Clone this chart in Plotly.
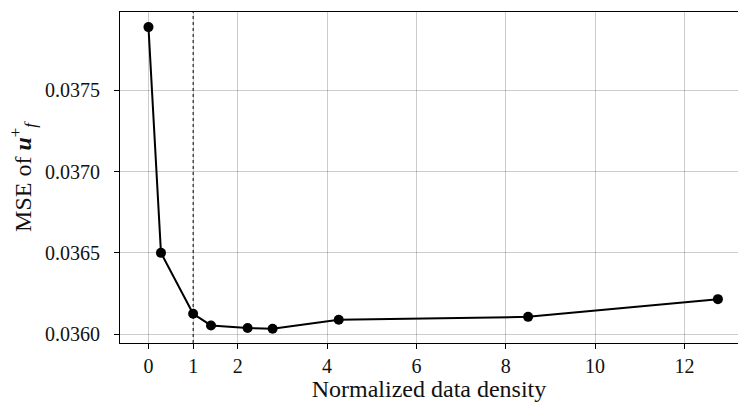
import plotly.graph_objects as go

density = [0.0, 0.28, 1.0, 1.4, 2.22, 2.78, 4.26, 8.5, 12.75]
mse = [0.03789, 0.03650, 0.036125, 0.036053, 0.036037, 0.036033, 0.036088, 0.036106, 0.036215]

x_ticks = [0, 1, 2, 4, 6, 8, 10, 12]
y_ticks = [0.0360, 0.0365, 0.0370, 0.0375]
y_tick_text = ["0.0360", "0.0365", "0.0370", "0.0375"]

FONT = "Liberation Serif"

fig = go.Figure()
fig.add_trace(go.Scatter(
    x=density, y=mse, mode="lines+markers",
    line=dict(color="black", width=2),
    marker=dict(color="black", size=10),
    showlegend=False,
))
fig.add_vline(x=1, line=dict(color="black", width=1, dash="dot"))

grid = "rgba(0,0,0,0.2)"
fig.update_layout(
    width=738, height=402,
    margin=dict(l=120, r=0, t=12, b=59),
    plot_bgcolor="white", paper_bgcolor="white",
    font=dict(family=FONT, size=20, color="#111"),
    xaxis=dict(
        range=[-0.6375, 13.2], tickvals=x_ticks,
        showgrid=True, gridcolor=grid, gridwidth=1,
        showline=True, linecolor="black", linewidth=1, mirror=True,
        ticks="outside", ticklen=5, tickcolor="black",
        tickfont=dict(size=20), zeroline=False,
        title=dict(text="Normalized data density", font=dict(size=24), standoff=2),
    ),
    yaxis=dict(
        range=[0.035945, 0.037983], tickvals=y_ticks, ticktext=y_tick_text,
        showgrid=True, gridcolor=grid, gridwidth=1,
        showline=True, linecolor="black", linewidth=1, mirror=False,
        ticks="outside", ticklen=5, tickcolor="black",
        tickfont=dict(size=20), zeroline=False, ticklabelstandoff=10,
        title=dict(text="MSE of <b><i>u</i></b><sup>+</sup><sub><i>f</i></sub>", font=dict(size=24), standoff=6),
    ),
)
fig.write_html("out.html")
